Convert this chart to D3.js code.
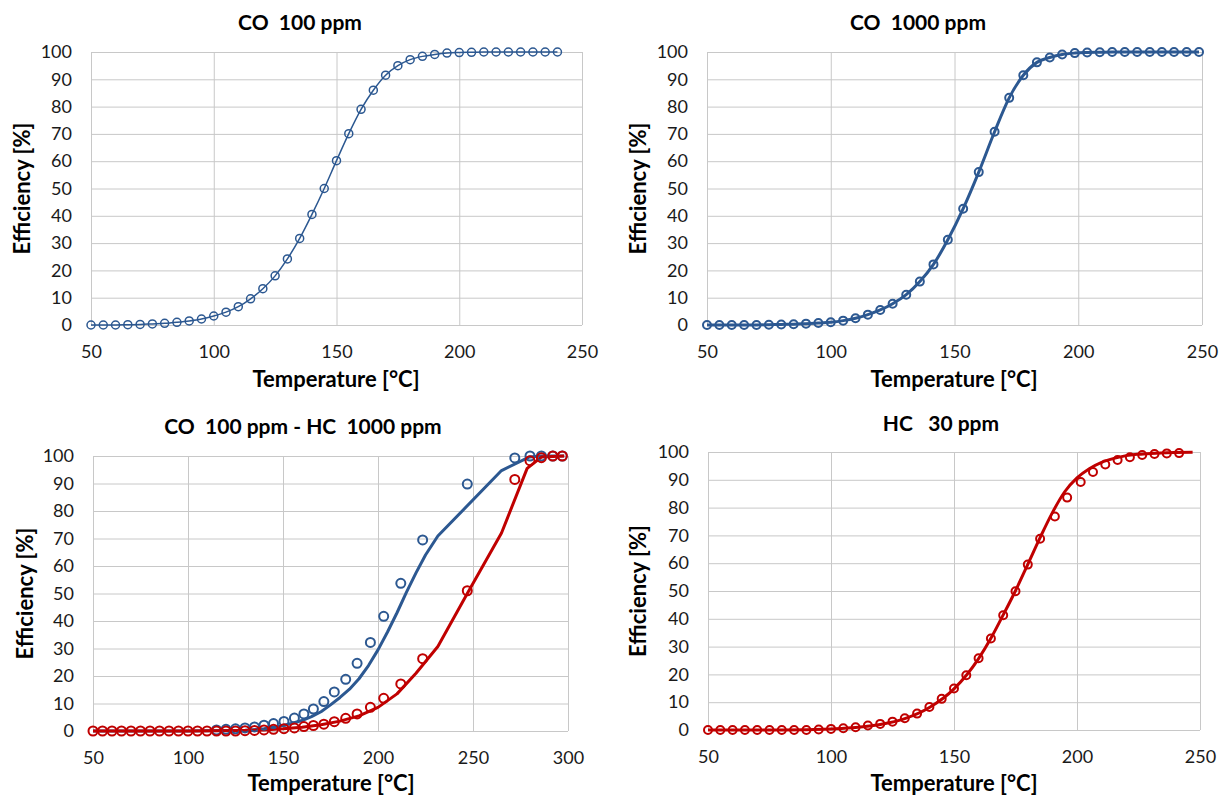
<!DOCTYPE html>
<html>
<head>
<meta charset="utf-8">
<script src="https://cdn.jsdelivr.net/npm/d3@7"></script>
<style>
  body { margin: 0; background: #fff; }
  .tick text { font-family: Lato, "Open Sans", sans-serif; font-size: 18px; fill: #1a1a1a; }
  .tick line { stroke: #c8c8c8; stroke-width: 1; }
  .title { font-family: Lato, sans-serif; font-weight: bold; font-size: 21px; fill: #000; }
  .axisLabel { font-family: Lato, sans-serif; font-weight: bold; font-size: 22px; fill: #000; }
</style>
</head>
<body>
<div id="chart"></div>
<script>
// ---- data ----
const yTicks = [0, 10, 20, 30, 40, 50, 60, 70, 80, 90, 100];
const xTicks250 = [50, 100, 150, 200, 250];
const xTicks300 = [50, 100, 150, 200, 250, 300];

// CO 100 ppm
const co100Temp = [50,55,60,65,70,75,80,85,90,95,100,105,110,115,120,125,130,135,140,145,150,155,160,165,170,175,180,185,190,195,200,205,210,215,220,225,230,235,240];
const co100Eff  = [0,0,0,0.1,0.2,0.4,0.6,1.0,1.5,2.2,3.3,4.7,6.7,9.6,13.3,18,24.2,31.7,40.5,50,60.2,70.1,79,86,91.5,95,97.2,98.4,99.1,99.6,99.8,99.9,100,100,100,100,100,100,100];

// CO 1000 ppm
const co1000Temp = [50,55,60,65,70,75,80,85,90,95,100,105,110,115,120,125,130.5,136,141.5,147.3,153.5,159.8,166.2,172.1,177.8,183.3,188.5,193.5,198.6,203.6,208.7,213.7,218.8,223.8,228.9,233.8,238.7,243.8,248.8];
const co1000Eff  = [0,0,0,0,0,0.1,0.2,0.3,0.5,0.7,1.0,1.6,2.5,3.8,5.5,7.8,11.1,15.9,22.2,31.2,42.6,56,70.8,83.2,91.5,96.2,98,99.1,99.6,99.8,99.9,100,100,100,100,100,100,100,100];

// CO 100 ppm - HC 1000 ppm : measured points
const mixTempCO = [115,120,125,130,135,140,145,150.5,156,161,166,171.5,177,183,189,196,203,212,223.5,247,272,280,286,292,297];
const mixEffCO  = [0.4,0.6,0.8,1.1,1.5,2.1,2.7,3.5,4.7,6.2,8,10.7,14.2,18.8,24.6,32.2,41.7,53.7,69.5,89.8,99.3,100,100,100,100];
const mixTempHC = [50,55,60,65,70,75,80,85,90,95,100,105,110,115,120,125,130,135,140,145,150.5,156,161,166,171.5,177,183,189,196,203,212,223.5,247,272,280,286,292,297];
const mixEffHC  = [0,0,0,0,0,0,0,0,0,0,0,0,0,0,0,0,0.1,0.2,0.4,0.6,0.85,1.1,1.6,2,2.5,3.4,4.6,6.2,8.6,11.9,17.1,26.3,51,91.5,98.3,99.4,100,100];
// CO 100 ppm - HC 1000 ppm : model lines
const mixModelTempCO = [50,100,130,140,150,155,160,165,170,175,180,185,190,195,200,205,210,215,220,225,231.5,265,279.5,286,298];
const mixModelCO     = [0,0,0.3,0.8,2,2.8,3.8,5.2,7,9.5,12.2,15.2,19,23.8,29.5,36,43,50.5,57.5,64,70.9,94.7,99.6,100,100];
const mixModelTempHC = [50,100,130,140,150,160,170,180,190,200,210,220,231.5,247,265,278.5,286,298];
const mixModelHC     = [0,0,0.2,0.4,0.8,1.4,2.3,3.6,5.5,8.6,13.5,21,30.7,50,72,95.5,99.6,100];

// HC 30 ppm
const hc30Temp = [50,55,60,65,70,75,80,85,90,95,100,105,110,115,120,125,130,135,140,145,150,155,160,165,170,175,180,185,191,196,201.5,206.5,211.5,216.5,221.5,226.5,231.5,236.5,241.5];
const hc30Eff  = [0,0,0,0,0,0,0,0,0,0.2,0.4,0.6,1,1.6,2.2,3,4.2,5.9,8.3,11.2,14.9,19.7,25.8,32.9,41.3,49.9,59.5,68.8,76.8,83.6,89.2,92.8,95.5,97.1,98.1,98.9,99.3,99.5,99.6];
const hc30ModelTemp = [50,80,100,110,120,130,140,150,160,165,170,175,180,185,190,195,200,205,210,215,220,225,230,240,247];
const hc30Model     = [0,0,0.4,0.9,2,4.1,8.1,14.8,25.7,33,41.4,50.1,59.6,69.2,78.2,85.7,90.7,94,96.3,97.7,98.7,99.2,99.5,99.8,99.9];

const blue = "#2c5891";
const red = "#c00000";

const zip = (xs, ys) => xs.map((x, i) => ({x: x, y: ys[i]}));

const svg = d3.select("#chart")
    .append("svg")
    .attr("width", 1223)
    .attr("height", 796);

const panels = [
    {title: "CO  100 ppm", left: 91, right: 582, top: 52, bottom: 325, xMax: 250, xTicks: xTicks250,
     titleX: 300, titleY: 30, xLabelX: 336, xLabelY: 387, yLabelX: 30,
     series: [{line: zip(co100Temp, co100Eff), pts: zip(co100Temp, co100Eff), color: blue, lw: 1.5, r: 4, sw: 1.5, curve: d3.curveMonotoneX}]},
    {title: "CO  1000 ppm", left: 707, right: 1202, top: 52, bottom: 325, xMax: 250, xTicks: xTicks250,
     titleX: 918, titleY: 30, xLabelX: 954, xLabelY: 387, yLabelX: 646,
     series: [{line: zip(co1000Temp, co1000Eff), pts: zip(co1000Temp, co1000Eff), color: blue, lw: 3, r: 4, sw: 2, curve: d3.curveMonotoneX}]},
    {title: "CO  100 ppm - HC  1000 ppm", left: 93, right: 568, top: 456, bottom: 731, xMax: 300, xTicks: xTicks300,
     titleX: 303, titleY: 434, xLabelX: 331, xLabelY: 791, yLabelX: 33,
     series: [
        {line: zip(mixModelTempCO, mixModelCO), pts: zip(mixTempCO, mixEffCO), color: blue, lw: 3, r: 4.5, sw: 2, curve: d3.curveLinear},
        {line: zip(mixModelTempHC, mixModelHC), pts: zip(mixTempHC, mixEffHC), color: red, lw: 3, r: 4.5, sw: 2, curve: d3.curveLinear}
     ]},
    {title: "HC   30 ppm", left: 708, right: 1200, top: 452, bottom: 730, xMax: 250, xTicks: xTicks250,
     titleX: 941, titleY: 431, xLabelX: 954, xLabelY: 791, yLabelX: 646,
     series: [{line: zip(hc30ModelTemp, hc30Model), pts: zip(hc30Temp, hc30Eff), color: red, lw: 3, r: 4, sw: 2, curve: d3.curveMonotoneX}]}
];

panels.forEach(function(p) {
    const xScale = d3.scaleLinear().domain([50, p.xMax]).range([p.left, p.right]);
    const yScale = d3.scaleLinear().domain([0, 100]).range([p.bottom, p.top]);
    const w = p.right - p.left;
    const h = p.bottom - p.top;

    const xAxis = svg.append("g")
        .attr("transform", `translate(0,${p.bottom})`)
        .call(d3.axisBottom(xScale).tickValues(p.xTicks).tickSize(-h).tickPadding(20));
    xAxis.select(".domain").remove();

    const yAxis = svg.append("g")
        .attr("transform", `translate(${p.left},0)`)
        .call(d3.axisLeft(yScale).tickValues(yTicks).tickSize(-w).tickPadding(19));
    yAxis.select(".domain").remove();

    const line = d3.line()
        .x(function(d) { return xScale(d.x); })
        .y(function(d) { return yScale(d.y); });

    p.series.forEach(function(s) {
        svg.append("path")
            .datum(s.line)
            .attr("fill", "none")
            .attr("stroke", s.color)
            .attr("stroke-width", s.lw)
            .attr("stroke-linejoin", "round")
            .attr("d", line.curve(s.curve));
    });
    p.series.forEach(function(s) {
        svg.append("g").selectAll("circle")
            .data(s.pts)
            .enter()
            .append("circle")
                .attr("cx", function(d) { return xScale(d.x); })
                .attr("cy", function(d) { return yScale(d.y); })
                .attr("r", s.r)
                .attr("fill", "none")
                .attr("stroke", s.color)
                .attr("stroke-width", s.sw);
    });

    svg.append("text")
        .attr("class", "title")
        .attr("x", p.titleX)
        .attr("y", p.titleY)
        .attr("text-anchor", "middle")
        .style("white-space", "pre")
        .text(p.title);
    svg.append("text")
        .attr("class", "axisLabel")
        .attr("x", p.xLabelX)
        .attr("y", p.xLabelY)
        .attr("text-anchor", "middle")
        .text("Temperature [°C]");
    svg.append("text")
        .attr("class", "axisLabel")
        .attr("transform", `translate(${p.yLabelX},${(p.top + p.bottom) / 2}) rotate(-90)`)
        .attr("text-anchor", "middle")
        .text("Efficiency [%]");
});
</script>
</body>
</html>
